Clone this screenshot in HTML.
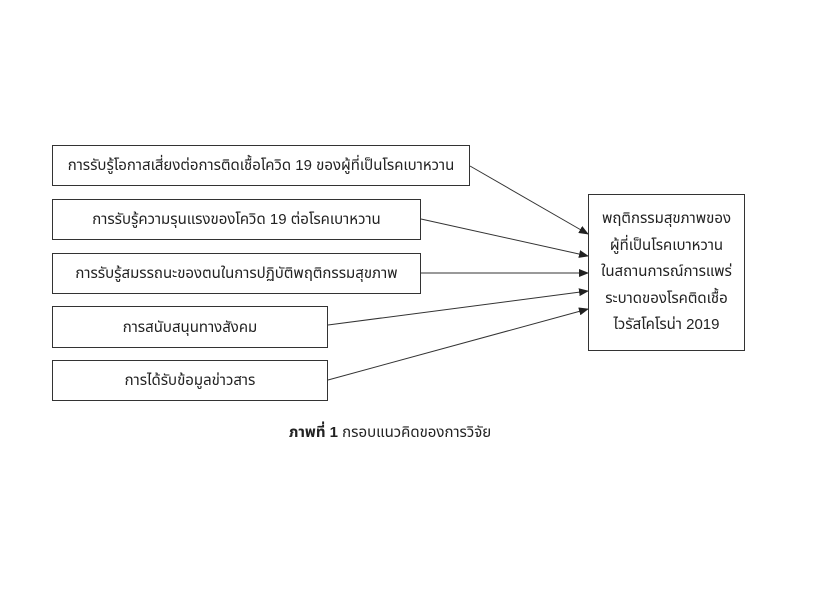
<!DOCTYPE html>
<html><head><meta charset="utf-8"><style>
body{margin:0;width:837px;height:607px;background:#fff;position:relative;font-family:"Liberation Sans","DejaVu Sans","Noto Sans Thai","Garuda","Loma",sans-serif;color:#222}
.b{position:absolute;border:1.3px solid #333;box-sizing:border-box;display:flex;align-items:center;justify-content:center;font-size:15px;text-align:center;background:#fff}
</style></head><body>
<svg width="837" height="607" style="position:absolute;left:0;top:0">
<defs><marker id="a" markerWidth="10" markerHeight="8" refX="9" refY="4" orient="auto" markerUnits="userSpaceOnUse"><path d="M0,0 L10,4 L0,8z" fill="#222"/></marker></defs>
<g stroke="#333" stroke-width="1" marker-end="url(#a)">
<line x1="470" y1="166" x2="588" y2="234"/>
<line x1="421" y1="219" x2="588" y2="256"/>
<line x1="421" y1="273" x2="588" y2="273"/>
<line x1="328" y1="325" x2="588" y2="291"/>
<line x1="328" y1="380" x2="588" y2="309"/>
</g></svg>
<div class="b" style="left:52px;top:145px;width:418px;height:41px">การรับรู้โอกาสเสี่ยงต่อการติดเชื้อโควิด 19 ของผู้ที่เป็นโรคเบาหวาน</div>
<div class="b" style="left:52px;top:199px;width:369px;height:41px">การรับรู้ความรุนแรงของโควิด 19 ต่อโรคเบาหวาน</div>
<div class="b" style="left:52px;top:253px;width:369px;height:41px">การรับรู้สมรรถนะของตนในการปฏิบัติพฤติกรรมสุขภาพ</div>
<div class="b" style="left:52px;top:306px;width:276px;height:42px">การสนับสนุนทางสังคม</div>
<div class="b" style="left:52px;top:360px;width:276px;height:41px">การได้รับข้อมูลข่าวสาร</div>
<div class="b" style="left:588px;top:194px;width:157px;height:157px;line-height:26.5px">พฤติกรรมสุขภาพของ<br>ผู้ที่เป็นโรคเบาหวาน<br>ในสถานการณ์การแพร่<br>ระบาดของโรคติดเชื้อ<br>ไวรัสโคโรน่า 2019</div>
<div style="position:absolute;left:240px;width:300px;top:421px;text-align:center;font-size:15px"><b>ภาพที่ 1</b> กรอบแนวคิดของการวิจัย</div>
</body></html>
